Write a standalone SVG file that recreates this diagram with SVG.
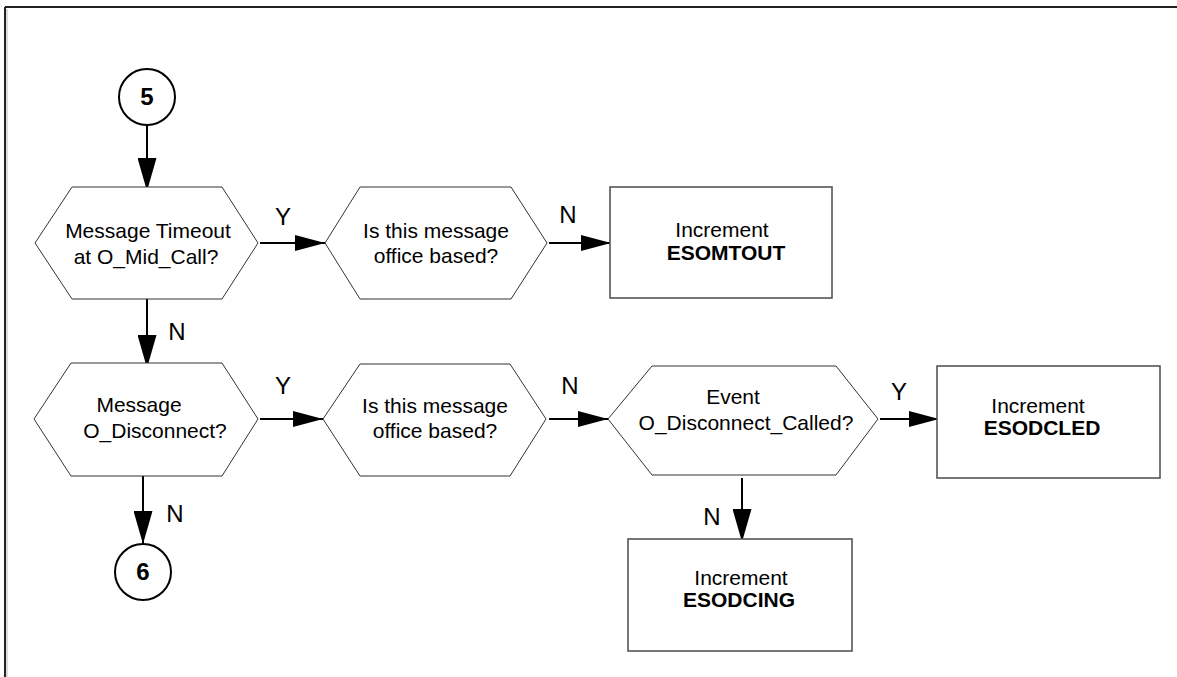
<svg xmlns="http://www.w3.org/2000/svg" width="1177" height="677" viewBox="0 0 1177 677">
<style>
.frame{stroke:#222;stroke-width:2;fill:none}
.hex{fill:#fff;stroke:#333;stroke-width:1}
.box{fill:#fff;stroke:#555;stroke-width:1.6}
.circ{fill:#fff;stroke:#000;stroke-width:2}
.conn{stroke:#000;stroke-width:2;fill:none}
.t{font-family:"Liberation Sans",Arial,sans-serif;font-size:21px;fill:#000;text-anchor:middle}
.b{font-weight:bold}
.lbl{font-family:"Liberation Sans",Arial,sans-serif;font-size:24px;fill:#000;text-anchor:middle}
.num{font-family:"Liberation Sans",Arial,sans-serif;font-size:24px;font-weight:bold;fill:#000;text-anchor:middle}
</style>
<defs>
<marker id="ah" markerUnits="userSpaceOnUse" markerWidth="30" markerHeight="16" viewBox="0 0 30 16" refX="30" refY="8" orient="auto">
<path d="M0,0 L30,8 L0,16 Z" fill="#000"/>
</marker>
<marker id="av" markerUnits="userSpaceOnUse" markerWidth="33" markerHeight="19" viewBox="0 0 33 19" refX="33" refY="9.5" orient="auto">
<path d="M0,0 L33,9.5 L0,19 Z" fill="#000"/>
</marker>
</defs>
<rect width="1177" height="677" fill="#fff"/>
<g id="frame">
<line class="frame" x1="5" y1="7" x2="1177" y2="7"/>
<line class="frame" x1="5" y1="7" x2="5" y2="677"/>
<line x1="7" y1="9" x2="7" y2="677" stroke="#bbb" stroke-width="1"/>
</g>
<g id="connectors">
<line class="conn" x1="147" y1="125" x2="147" y2="191" marker-end="url(#av)"/>
<line class="conn" x1="147" y1="299" x2="147" y2="368" marker-end="url(#av)"/>
<line class="conn" x1="260" y1="243" x2="325" y2="243" marker-end="url(#ah)"/>
<line class="conn" x1="549" y1="243" x2="611" y2="243" marker-end="url(#ah)"/>
<line class="conn" x1="260" y1="419" x2="323" y2="419" marker-end="url(#ah)"/>
<line class="conn" x1="549" y1="419" x2="608" y2="419" marker-end="url(#ah)"/>
<line class="conn" x1="880" y1="419" x2="939" y2="419" marker-end="url(#ah)"/>
<line class="conn" x1="742" y1="478" x2="742" y2="542" marker-end="url(#av)"/>
<line class="conn" x1="143" y1="476" x2="143" y2="544" marker-end="url(#av)"/>
<text class="lbl" x="283" y="225">Y</text>
<text class="lbl" x="568" y="223">N</text>
<text class="lbl" x="177" y="340">N</text>
<text class="lbl" x="283" y="394">Y</text>
<text class="lbl" x="570" y="394">N</text>
<text class="lbl" x="899" y="400">Y</text>
<text class="lbl" x="175" y="522">N</text>
<text class="lbl" x="712" y="525">N</text>
</g>
<g id="c5">
<circle class="circ" cx="147" cy="97" r="28"/>
<text class="num" x="147" y="105">5</text>
</g>
<g id="d1">
<polygon class="hex" points="35,243 72,187 222,187 258,243 222,299 72,299"/>
<text class="t" x="148" y="238">Message Timeout</text>
<text class="t" x="146" y="264">at O_Mid_Call?</text>
</g>
<g id="d2">
<polygon class="hex" points="325,243 360,187 511,187 547,243 511,299 360,299"/>
<text class="t" x="436" y="238">Is this message</text>
<text class="t" x="436" y="263">office based?</text>
</g>
<g id="b1">
<rect class="box" x="610" y="187" width="222" height="111"/>
<text class="t" x="722" y="237">Increment</text>
<text class="t b" x="726" y="260">ESOMTOUT</text>
</g>
<g id="d3">
<polygon class="hex" points="34,419 71,363 222,363 258,419 222,476 71,476"/>
<text class="t" x="139" y="412">Message</text>
<text class="t" x="155" y="438">O_Disconnect?</text>
</g>
<g id="d4">
<polygon class="hex" points="323,419 360,364 510,364 546,419 510,476 360,476"/>
<text class="t" x="435" y="413">Is this message</text>
<text class="t" x="435" y="438">office based?</text>
</g>
<g id="d5">
<polygon class="hex" points="608,419 652,366 836,366 878,419 836,475 652,475"/>
<text class="t" x="733" y="404">Event</text>
<text class="t" x="746" y="430">O_Disconnect_Called?</text>
</g>
<g id="b2">
<rect class="box" x="937" y="366" width="223" height="112"/>
<text class="t" x="1038" y="413">Increment</text>
<text class="t b" x="1042" y="435">ESODCLED</text>
</g>
<g id="b3">
<rect class="box" x="628" y="539" width="224" height="112"/>
<text class="t" x="741" y="585">Increment</text>
<text class="t b" x="739" y="607">ESODCING</text>
</g>
<g id="c6">
<circle class="circ" cx="143" cy="572" r="28"/>
<text class="num" x="143" y="580">6</text>
</g>
</svg>
